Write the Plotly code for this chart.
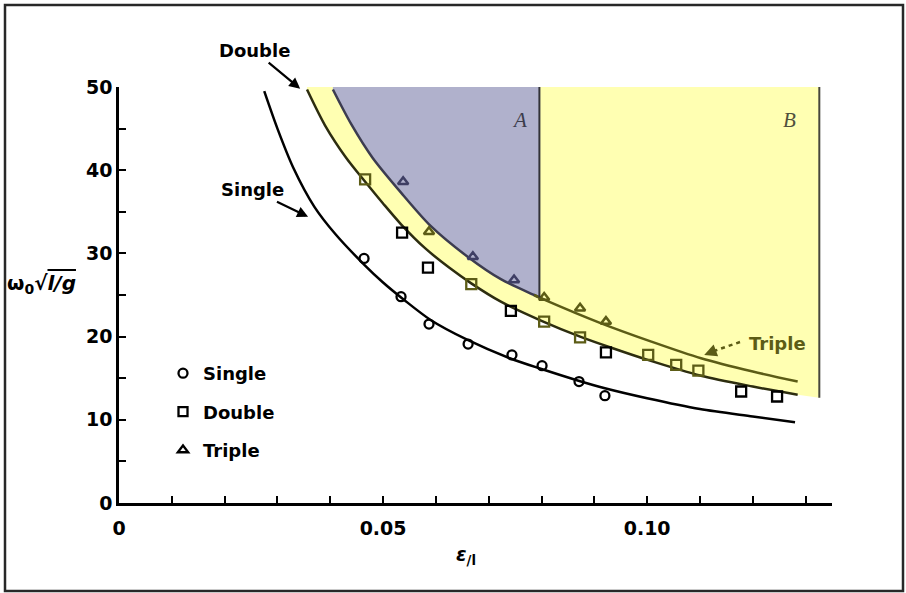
import numpy as np
import plotly.graph_objects as go

# ---------------- data ----------------
single_x = [0.0464, 0.0534, 0.0587, 0.0661, 0.0744, 0.0801, 0.0871, 0.0920]
single_y = [29.4, 24.8, 21.5, 19.1, 17.8, 16.5, 14.6, 12.9]

double_x = [0.0466, 0.0536, 0.0585, 0.0667, 0.0742, 0.0805, 0.0873, 0.0922,
            0.1002, 0.1055, 0.1097, 0.1178, 0.1246]
double_y = [38.9, 32.5, 28.3, 26.3, 23.1, 21.8, 19.9, 18.1, 17.8, 16.6, 15.9, 13.4, 12.8]

triple_x = [0.0538, 0.0587, 0.0670, 0.0748, 0.0805, 0.0873, 0.0922]
triple_y = [38.6, 32.6, 29.6, 26.8, 24.7, 23.4, 21.8]

single_curve_x = [0.0275, 0.030, 0.033, 0.037, 0.041, 0.0465, 0.050, 0.054, 0.059,
                  0.066, 0.074, 0.080, 0.087, 0.092, 0.100, 0.110, 0.120, 0.128]
single_curve_y = [49.5, 45.0, 40.3, 35.6, 32.3, 28.6, 26.5, 24.4, 22.0,
                  19.6, 17.4, 16.1, 14.7, 13.8, 12.6, 11.3, 10.4, 9.7]

double_curve_x = [0.0356, 0.039, 0.043, 0.0465, 0.050, 0.0534, 0.058, 0.0625, 0.0667,
                  0.0723, 0.080, 0.0873, 0.0935, 0.1001, 0.1102, 0.120, 0.1285]
double_curve_y = [49.7, 45.4, 41.5, 38.7, 36.0, 33.5, 30.6, 28.3, 26.4,
                  24.2, 21.9, 20.0, 18.6, 17.2, 15.3, 14.0, 13.0]

triple_curve_x = [0.0405, 0.044, 0.048, 0.0534, 0.059, 0.066, 0.0723, 0.0786, 0.0805,
                  0.0913, 0.1008, 0.1102, 0.120, 0.1285]
triple_curve_y = [49.7, 45.5, 41.5, 37.3, 33.3, 29.6, 26.9, 25.0, 24.45,
                  21.6, 19.4, 17.4, 15.8, 14.6]

# shaded regions
REGION_A_RIGHT = 0.0796      # right edge of region A
REGION_B_RIGHT = 0.1326      # right edge of region B
REGION_B_BOTTOM = 12.65      # lower right corner of region B
Y_TOP = 50

x_tick_vals = [0, 0.05, 0.10]
x_tick_text = ["0", "0.05", "0.10"]
y_tick_vals = [0, 10, 20, 30, 40, 50]
y_tick_text = ["0", "10", "20", "30", "40", "50"]

# ---------------- styling ----------------
W, H = 906, 593
ML, MR, MT, MB = 119, 74, 87, 90
PW, PH = W - ML - MR, H - MT - MB

YELLOW = "rgb(255,255,178)"
BLUE = "rgb(176,177,204)"
OLIVE = "rgb(92,92,22)"
NAVY = "rgb(62,62,100)"
DARK = "rgb(40,40,40)"
FONT = "DejaVu Sans"


def P(xpx, ypx):
    """pixel -> paper coordinates"""
    return (xpx - ML) / PW, (H - MB - ypx) / PH


def point_colors(xs, ys):
    cols = []
    for x, y in zip(xs, ys):
        t = np.interp(x, triple_curve_x, triple_curve_y)
        d = np.interp(x, double_curve_x, double_curve_y)
        if x < REGION_A_RIGHT and y > t:
            cols.append(NAVY)
        elif y > d - 0.3 and x <= REGION_B_RIGHT:
            cols.append(OLIVE)
        else:
            cols.append("black")
    return cols


fig = go.Figure()

# region B (yellow, includes the band between Double and Triple)
yb_x = list(double_curve_x) + [REGION_B_RIGHT, REGION_B_RIGHT, double_curve_x[0]]
yb_y = list(double_curve_y) + [REGION_B_BOTTOM, Y_TOP, Y_TOP]
fig.add_trace(go.Scatter(x=yb_x, y=yb_y, fill="toself", fillcolor=YELLOW,
                         line=dict(width=0), mode="lines", hoverinfo="skip",
                         showlegend=False))

# region A (blue)
tc_x = np.array(triple_curve_x)
tc_y = np.array(triple_curve_y)
mask = tc_x < REGION_A_RIGHT
a_corner = float(np.interp(REGION_A_RIGHT, tc_x, tc_y))
ba_x = list(tc_x[mask]) + [REGION_A_RIGHT, REGION_A_RIGHT, tc_x[0]]
ba_y = list(tc_y[mask]) + [a_corner, Y_TOP, Y_TOP]
fig.add_trace(go.Scatter(x=ba_x, y=ba_y, fill="toself", fillcolor=BLUE,
                         line=dict(width=0), mode="lines", hoverinfo="skip",
                         showlegend=False))

# curves
fig.add_trace(go.Scatter(x=single_curve_x, y=single_curve_y, mode="lines",
                         line=dict(color="black", width=2.5, shape="spline", smoothing=0.8),
                         showlegend=False, hoverinfo="skip"))
fig.add_trace(go.Scatter(x=double_curve_x, y=double_curve_y, mode="lines",
                         line=dict(color="rgb(45,45,15)", width=2.5, shape="spline", smoothing=0.8),
                         showlegend=False, hoverinfo="skip"))
mask_a = tc_x <= 0.0805
fig.add_trace(go.Scatter(x=tc_x[mask_a], y=tc_y[mask_a], mode="lines",
                         line=dict(color="rgb(60,60,80)", width=2.5, shape="spline", smoothing=0.8),
                         showlegend=False, hoverinfo="skip"))
mask_b = tc_x >= 0.0786
fig.add_trace(go.Scatter(x=tc_x[mask_b], y=tc_y[mask_b], mode="lines",
                         line=dict(color=OLIVE, width=2.5, shape="spline", smoothing=0.8),
                         showlegend=False, hoverinfo="skip"))

# data markers
fig.add_trace(go.Scatter(x=single_x, y=single_y, mode="markers", showlegend=False,
                         marker=dict(symbol="circle-open", size=9,
                                     color=point_colors(single_x, single_y),
                                     line=dict(width=2.3))))
fig.add_trace(go.Scatter(x=double_x, y=double_y, mode="markers", showlegend=False,
                         marker=dict(symbol="square-open", size=10,
                                     color=point_colors(double_x, double_y),
                                     line=dict(width=2.3))))
fig.add_trace(go.Scatter(x=triple_x, y=triple_y, mode="markers", showlegend=False,
                         marker=dict(symbol="triangle-up-open", size=9,
                                     color=point_colors(triple_x, triple_y),
                                     line=dict(width=2.5))))

# legend entries
for name, sym in [("Single", "circle-open"), ("Double", "square-open"),
                  ("Triple", "triangle-up-open")]:
    fig.add_trace(go.Scatter(x=[None], y=[None], mode="markers", name=name,
                             legendgroup=name,
                             marker=dict(symbol=sym, size=9, color="black",
                                         line=dict(width=2.3))))

shapes = []
# region edges
shapes.append(dict(type="line", xref="x", yref="y", x0=REGION_A_RIGHT, x1=REGION_A_RIGHT,
                   y0=a_corner, y1=Y_TOP, line=dict(color="rgb(50,50,55)", width=2)))
shapes.append(dict(type="line", xref="x", yref="y", x0=REGION_B_RIGHT, x1=REGION_B_RIGHT,
                   y0=REGION_B_BOTTOM, y1=Y_TOP, line=dict(color="rgb(70,70,60)", width=2)))
# outer frame
fx0, fy0 = P(5, 591)
fx1, fy1 = P(903, 5)
shapes.append(dict(type="rect", xref="paper", yref="paper", x0=fx0, y0=fy0, x1=fx1, y1=fy1,
                   line=dict(color=DARK, width=2.5)))
# dashed part of the Triple arrow
dx0, dy0 = P(740, 342)
dx1, dy1 = P(714, 351)
shapes.append(dict(type="line", xref="paper", yref="paper", x0=dx0, y0=dy0, x1=dx1, y1=dy1,
                   line=dict(color=OLIVE, width=2.5, dash="4px,4px")))

annotations = []
lab_font = dict(family=FONT, size=18, color="black", weight="bold")


def add_text(text, xpx, ypx, font, xanchor="center"):
    px_, py_ = P(xpx, ypx)
    annotations.append(dict(text=text, x=px_, y=py_, xref="paper", yref="paper",
                            showarrow=False, font=font, xanchor=xanchor, yanchor="middle"))


# labels with arrows pointing at their curves (arrow tip in data coordinates)
annotations.append(dict(text="Double", x=0.0343, y=49.8, xref="x", yref="y",
                        ax=-46, ay=-38, showarrow=True, arrowhead=2, arrowsize=1,
                        arrowwidth=2.2, arrowcolor="black", standoff=0, font=lab_font))
annotations.append(dict(text="Single", x=0.0358, y=34.4, xref="x", yref="y",
                        ax=-56, ay=-27, showarrow=True, arrowhead=2, arrowsize=1,
                        arrowwidth=2.2, arrowcolor="black", standoff=0, font=lab_font))
add_text("Triple", 777, 343, dict(family=FONT, size=18, color=OLIVE, weight="bold"))
add_text("<i>A</i>", 519, 120, dict(family="Liberation Serif", size=21, color="rgb(60,60,75)"))
add_text("<i>B</i>", 789, 120, dict(family="Liberation Serif", size=21, color="rgb(80,80,60)"))
add_text("ω<sub>0</sub>√<span style='text-decoration:overline'><i>l/g</i></span>",
         41, 284, dict(family=FONT, size=20, color="black", weight="bold"))
add_text("<i>ε</i><sub>/l</sub>", 466, 555, dict(family=FONT, size=19, color="black", weight="bold"))

# arrowhead of the dashed Triple pointer
annotations.append(dict(x=0.1108, y=17.8, xref="x", yref="y", ax=13, ay=-5, text="",
                        showarrow=True, arrowhead=2, arrowsize=1, arrowwidth=2.5,
                        arrowcolor=OLIVE))

tick_font = dict(family=FONT, size=19, color="black", weight="bold")
lx, ly = P(163, 355)

fig.update_layout(
    width=W, height=H,
    margin=dict(l=ML, r=MR, t=MT, b=MB),
    paper_bgcolor="white", plot_bgcolor="white",
    xaxis=dict(range=[0, 0.135], tickmode="array", tickvals=x_tick_vals, ticktext=x_tick_text,
               ticks="inside", ticklen=7, tickwidth=2, tickcolor="black",
               minor=dict(tick0=0, dtick=0.01, ticks="inside", ticklen=7, tickwidth=2,
                          tickcolor="black", showgrid=False),
               showline=True, linecolor="black", linewidth=2.5,
               showgrid=False, zeroline=False, tickfont=tick_font,
               ticklabelstandoff=6),
    yaxis=dict(range=[0, 50], tickmode="array", tickvals=y_tick_vals, ticktext=y_tick_text,
               ticks="inside", ticklen=7, tickwidth=2, tickcolor="black",
               minor=dict(tick0=0, dtick=5, ticks="inside", ticklen=7, tickwidth=2,
                          tickcolor="black", showgrid=False),
               showline=True, linecolor="black", linewidth=2.5,
               showgrid=False, zeroline=False, tickfont=tick_font,
               ticklabelstandoff=0),
    showlegend=True,
    legend=dict(x=lx, y=ly, xanchor="left", yanchor="top", bgcolor="rgba(0,0,0,0)",
                font=dict(family=FONT, size=18, color="black", weight="bold"),
                tracegroupgap=12, itemwidth=30),
    shapes=shapes,
    annotations=annotations,
)

fig.write_html("out.html", config={"displayModeBar": False},
               post_script="document.body.style.margin='0px';")
